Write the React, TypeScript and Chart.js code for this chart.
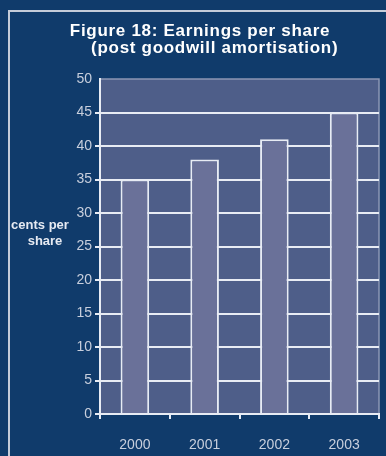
import React, { useEffect, useRef } from "react";
import { Chart, registerables } from "chart.js";

Chart.register(...registerables);

const titleLines = ["Figure 18: Earnings per share", " (post goodwill amortisation)"];
const yAxisLabel = ["cents per", "share"];
const years = ["2000", "2001", "2002", "2003"];
const eps = [35, 38, 41, 45];
const yMin = 0;
const yMax = 50;
const yStep = 5;

const BG = "#103b6b";
const PLOT_BG = "#4e5e89";
const BAR = "#6a7199";
const GRID = "#e8ecf4";
const TICK_TEXT = "#c8cfdd";
const FONT = "'Liberation Sans', Arial, sans-serif";

const decorPlugin = {
  id: "decor",
  beforeDraw(chart: any) {
    const { ctx, chartArea } = chart;
    ctx.save();
    ctx.fillStyle = BG;
    ctx.fillRect(0, 0, chart.width, chart.height);
    // frame
    ctx.strokeStyle = "#c5ccd9";
    ctx.lineWidth = 2;
    ctx.beginPath();
    ctx.moveTo(9, chart.height + 5);
    ctx.lineTo(9, 11);
    ctx.lineTo(chart.width + 5, 11);
    ctx.stroke();
    // plot background
    ctx.fillStyle = PLOT_BG;
    ctx.fillRect(chartArea.left, chartArea.top, chartArea.right - chartArea.left, chartArea.bottom - chartArea.top);
    // plot border (top/right)
    ctx.strokeStyle = "#8c97b4";
    ctx.lineWidth = 1.5;
    ctx.beginPath();
    ctx.moveTo(chartArea.left, chartArea.top);
    ctx.lineTo(chartArea.right, chartArea.top);
    ctx.lineTo(chartArea.right, chartArea.bottom);
    ctx.stroke();
    // title
    ctx.fillStyle = "#ffffff";
    ctx.font = `bold 17px ${FONT}`;
    ctx.textAlign = "center";
    ctx.textBaseline = "alphabetic";
    (ctx as any).letterSpacing = "0.7px";
    ctx.fillText(titleLines[0], 200, 36);
    ctx.fillText(titleLines[1], 212, 53);
    (ctx as any).letterSpacing = "0px";
    // y axis label
    ctx.font = `bold 13px ${FONT}`;
    ctx.fillStyle = "#e6eaf2";
    ctx.fillText(yAxisLabel[0], 40, 229);
    ctx.fillText(yAxisLabel[1], 45, 245);
    ctx.restore();
  },
};

export default function App() {
  const ref = useRef<HTMLCanvasElement>(null);
  useEffect(() => {
    if (!ref.current) return;
    const chart = new Chart(ref.current, {
      type: "bar",
      data: {
        labels: years,
        datasets: [
          {
            data: eps,
            backgroundColor: BAR,
            borderColor: GRID,
            borderWidth: 2,
            borderSkipped: "bottom",
            barPercentage: 0.41,
            categoryPercentage: 1,
          },
        ],
      },
      options: {
        responsive: false,
        animation: false,
        devicePixelRatio: 1,
        layout: { padding: { top: 79, right: 7, left: 0, bottom: 0 } },
        plugins: {
          legend: { display: false },
          title: { display: false },
          tooltip: { enabled: false },
        },
        scales: {
          x: {
            afterFit(scale: any) {
              scale.height = 42;
            },
            grid: {
              drawOnChartArea: false,
              drawTicks: true,
              tickLength: 5,
              color: GRID,
              lineWidth: 2,
              offset: true,
            },
            border: { color: GRID, width: 2 },
            ticks: {
              color: TICK_TEXT,
              font: { family: FONT, size: 14 },
              padding: 18,
            },
          },
          y: {
            min: yMin,
            max: yMax,
            afterFit(scale: any) {
              scale.width = 100;
            },
            grid: {
              color: (c: any) => (c.tick && c.tick.value === yMax ? "rgba(0,0,0,0)" : GRID),
              lineWidth: 2,
              tickLength: 5,
              drawTicks: true,
            },
            border: { color: GRID, width: 2 },
            ticks: {
              stepSize: yStep,
              color: TICK_TEXT,
              font: { family: FONT, size: 14 },
              padding: 3,
            },
          },
        },
      },
      plugins: [decorPlugin],
    });
    return () => chart.destroy();
  }, []);
  return (
    <div style={{ position: "absolute", left: 0, top: 0, width: 386, height: 456 }}>
      <canvas ref={ref} width={386} height={456} style={{ display: "block", width: 386, height: 456 }} />
    </div>
  );
}
